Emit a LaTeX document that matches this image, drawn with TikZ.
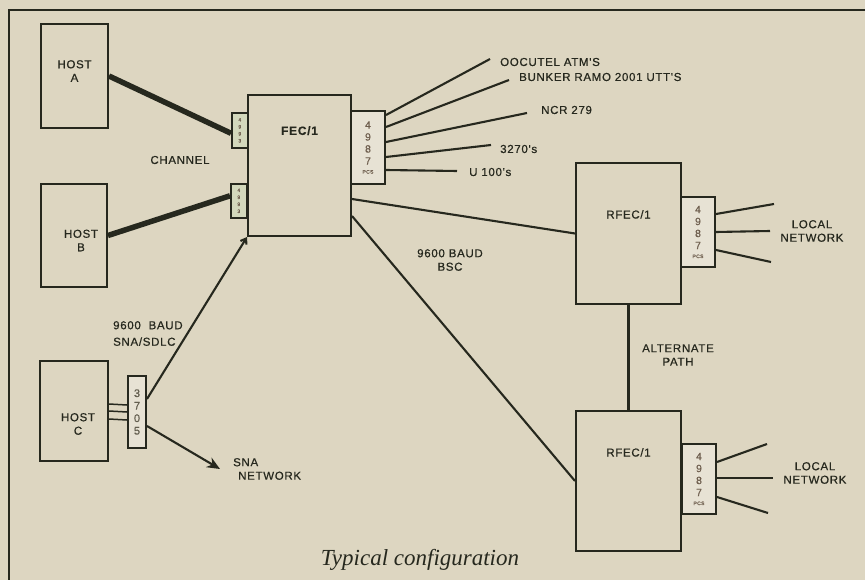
\documentclass[tikz,border=0pt]{standalone}
\usepackage{fontspec}
\newfontfamily\lblfont[LetterSpace=6,FakeBold=0.6]{Liberation Sans}
\newfontfamily\capfont{Liberation Serif}
\usepackage{xcolor}
\usetikzlibrary{arrows.meta,positioning}
\definecolor{paper}{HTML}{DDD6C1}
\definecolor{ink}{HTML}{26281E}
\definecolor{digit}{HTML}{6E5E4E}
\definecolor{adapter}{HTML}{D3D8BC}
\newcommand{\pcstext}{4\\9\\8\\7\\[-3pt]\fontsize{5}{6}\selectfont PCS}

\begin{document}
\begin{tikzpicture}[x=1pt,y=-1pt,>=Stealth,
  box/.style={draw=ink, line width=2pt, fill=paper, inner sep=0pt, anchor=north west},
  pcsbox/.style={box, fill=paper!70!white, minimum width=34pt, minimum height=72pt,
    align=center, text=digit, font={\lblfont\fontsize{10.5}{12}\selectfont}},
  adpbox/.style={box, fill=adapter, line width=1.6pt, minimum width=16pt, minimum height=35pt,
    align=center, text=digit, font={\lblfont\fontsize{5}{7}\selectfont}},
  lbl/.style={inner sep=1pt, text=ink, font={\lblfont\fontsize{11.5}{13.5}\selectfont}},
  wire/.style={draw=ink, line width=2.1pt},
  chan/.style={draw=ink, line width=5.5pt}]
\path[use as bounding box, fill=paper] (0,0) rectangle (865,580);
\draw[ink, line width=2pt] (9,580) -- (9,10) -- (865,10);
% hosts
\node[box, minimum width=67pt, minimum height=104pt] (hosta) at (40,23) {};
\node[box, minimum width=66pt, minimum height=103pt] (hostb) at (40,183) {};
\node[box, minimum width=68pt, minimum height=100pt] (hostc) at (39,360) {};
\node[lbl, align=center] (hostalbl) at ([yshift=5pt]hosta.center) {HOST\\A};
\node[lbl, align=center] (hostblbl) at ([xshift=7pt,yshift=-5pt]hostb.center) {HOST\\B};
\node[lbl, align=center] (hostclbl) at ([xshift=4pt,yshift=-13pt]hostc.center) {HOST\\C};
% front end
\node[box, minimum width=103pt, minimum height=141pt] (fec) at (247,94) {};
\node[lbl, font={\lblfont\bfseries\fontsize{12}{14}\selectfont}, below=31pt of fec.north] (feclbl) {FEC/1};
\node[adpbox] (adpa) at (231,112) {4\\9\\9\\3};
\node[adpbox, minimum height=34pt] (adpb) at (230,183) {4\\9\\9\\3};
\node[pcsbox, minimum height=73pt] (fecpcs) at (350,110) {\pcstext};
% remote front ends
\node[box, minimum width=105pt, minimum height=141pt] (rfa) at (575,162) {};
\node[lbl, below=47pt of rfa.north] (rfalbl) {RFEC/1};
\node[pcsbox, minimum height=70pt] (rfapcs) at (680,196) {\pcstext};
\node[box, minimum width=105pt, minimum height=140pt] (rfb) at (575,410) {};
\node[lbl, below=37pt of rfb.north] (rfblbl) {RFEC/1};
\node[pcsbox, minimum height=70pt] (rfbpcs) at (681,443) {\pcstext};
% 3705
\node[box, fill=paper!70!white, minimum width=18pt, minimum height=72pt, align=center,
  text=digit!70!adapter!60!ink, font={\lblfont\fontsize{11}{12.5}\selectfont}] (ibm) at (127,375) {3\\7\\0\\5};
% labels
\node[lbl] (chanlbl) at (180,160) {CHANNEL};
\node[lbl, align=left, anchor=north west] (sdlclbl) at (112,320) {9600\ \ BAUD\\[3pt]SNA/SDLC};
\node[lbl, align=center] (bsclbl) at (450,260) {9600 BAUD\\BSC};
\node[lbl, align=center] (altlbl) at (678,355) {ALTERNATE\\PATH};
\node[lbl, align=center] (lnalbl) at (812,231) {LOCAL\\NETWORK};
\node[lbl, align=center] (lnblbl) at (815,473) {LOCAL\\NETWORK};
\node[lbl, align=left, anchor=west] (snalbl) at (232,469) {SNA\\\hspace*{5pt}NETWORK};
\node[lbl, anchor=west] (ooclbl) at (499,62) {OOCUTEL ATM'S};
\node[lbl, anchor=west] (bunklbl) at (518,77) {BUNKER RAMO 2001 UTT'S};
\node[lbl, anchor=west] (ncrlbl) at (540,110) {NCR 279};
\node[lbl, anchor=west] (ibmlbl) at (499,149) {3270's};
\node[lbl, anchor=west] (unilbl) at (468,172) {U 100's};
\node[text=ink, font={\capfont\itshape\fontsize{23}{26}\selectfont}] (caption) at (420,560) {Typical configuration};
% free ends
\coordinate (e1) at (490,59);
\coordinate (e2) at (509,80);
\coordinate (e3) at (527,113);
\coordinate (e4) at (491,145);
\coordinate (e5) at (457,171);
\coordinate (a1) at (774,204);
\coordinate (a2) at (770,231);
\coordinate (a3) at (771,262);
\coordinate (b1) at (767,444);
\coordinate (b2) at (773,478);
\coordinate (b3) at (768,513);
\coordinate (sna) at (220,469);
% connections
\draw[chan] (hosta.east) -- ([yshift=-3pt]adpa.west);
\draw[chan] (hostb.east) -- ([yshift=5pt]adpb.west);
\foreach \d in {7,0,-8}
  \draw[wire, line width=1.5pt] ([yshift=\d pt]hostc.east) -- ([yshift=\d pt]ibm.west);
\draw[wire, -{Straight Barb[length=5pt,width=7pt]}] ([yshift=13pt]ibm.east) -- (fec.south west);
\draw[wire, -{Stealth[length=13pt,width=11pt]}] ([yshift=-14pt]ibm.east) -- (sna);
\foreach \s/\e in {5/e1,17/e2,32/e3,47/e4,60/e5}
  \draw[wire] ([yshift=-\s pt]fecpcs.north east) -- (\e);
\foreach \s/\e in {18/a1,36/a2,54/a3}
  \draw[wire] ([yshift=-\s pt]rfapcs.north east) -- (\e);
\foreach \s/\e in {19/b1,35/b2,54/b3}
  \draw[wire] ([yshift=-\s pt]rfbpcs.north east) -- (\e);
\draw[wire] ([yshift=-33.5pt]fec.east) -- (rfa.west);
\draw[wire] ([yshift=-50.5pt]fec.east) -- (rfb.west);
\draw[wire] (rfa.south) -- (rfb.north);
\end{tikzpicture}
\end{document}
